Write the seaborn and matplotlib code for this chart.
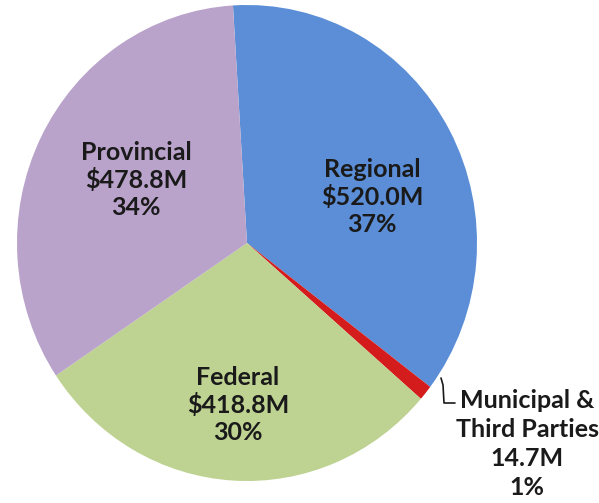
import matplotlib
matplotlib.use("Agg")
import matplotlib.pyplot as plt
import seaborn as sns

# --- data ---
sources = ["Regional", "Municipal &\nThird Parties", "Federal", "Provincial"]
amounts = [520.0, 14.7, 418.8, 478.8]  # $M
amount_labels = ["$520.0M", "14.7M", "$418.8M", "$478.8M"]
pct_labels = ["37%", "1%", "30%", "34%"]
colors = ["#5B8ED6", "#D41C1C", "#BED292", "#BAA3CB"]

sns.set_theme(style="white")
plt.rcParams["font.family"] = ["Lato", "DejaVu Sans"]

fig = plt.figure(figsize=(5.99, 5.03), dpi=100)
# pie centre ~ (247, 243) px, radius ~230 x 238 px
ax = fig.add_axes([(247 - 230) / 599, (503 - 243 - 238) / 503, 460 / 599, 476 / 503])

ax.pie(amounts, colors=colors, startangle=93.5, counterclock=False,
       radius=1, wedgeprops=dict(linewidth=0))
ax.set_aspect("auto")
ax.set_xlim(-1, 1)
ax.set_ylim(-1, 1)
ax.axis("off")

def px(x, y):
    return (x - 247) / 230, (243 - y) / 238


txt = dict(ha="center", va="center", fontsize=18, fontweight="bold",
           color="#1a1a1a")

label_pos = {0: (372, 197), 2: (238, 405), 3: (136, 180)}
for i, (x, y) in label_pos.items():
    ax.text(*px(x, y), f"{sources[i]}\n{amount_labels[i]}\n{pct_labels[i]}",
            linespacing=1.2, **txt)

# small slice label outside with leader line
ax.text(*px(527, 444), f"{sources[1]}\n{amount_labels[1]}\n{pct_labels[1]}",
        clip_on=False, linespacing=1.3, **txt)
lx, ly = zip(px(441, 378), px(443, 385), px(444, 403), px(455, 403))
ax.plot(lx, ly, color="#1a1a1a", lw=1.2, clip_on=False)

fig.savefig("out.png", dpi=100)
